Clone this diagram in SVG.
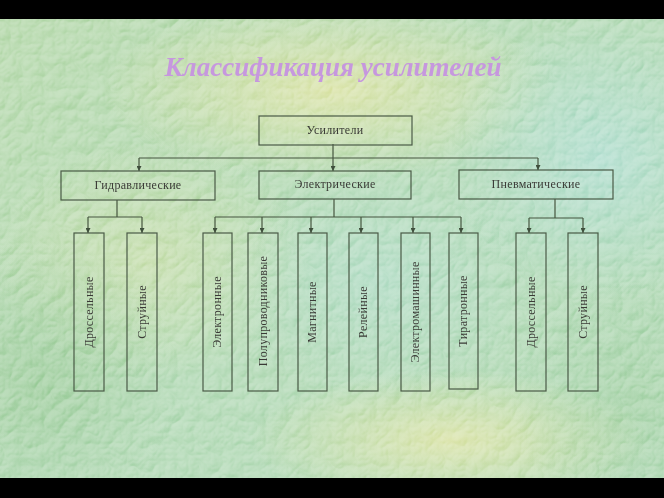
<svg xmlns="http://www.w3.org/2000/svg" width="664" height="498" viewBox="0 0 664 498">
  <defs>
    <linearGradient id="bgBase" x1="0" y1="0" x2="1" y2="1">
      <stop offset="0" stop-color="#b6d9ab"/>
      <stop offset="0.5" stop-color="#b3dab6"/>
      <stop offset="1" stop-color="#b0d9b5"/>
    </linearGradient>
    <radialGradient id="glowY1" cx="0.5" cy="0.5" r="0.5">
      <stop offset="0" stop-color="#e2e6a8" stop-opacity="0.85"/>
      <stop offset="1" stop-color="#e2e6a8" stop-opacity="0"/>
    </radialGradient>
    <radialGradient id="glowB" cx="0.5" cy="0.5" r="0.5">
      <stop offset="0" stop-color="#b2e0d6" stop-opacity="0.8"/>
      <stop offset="1" stop-color="#b2e0d6" stop-opacity="0"/>
    </radialGradient>
    <radialGradient id="glowG" cx="0.5" cy="0.5" r="0.5">
      <stop offset="0" stop-color="#9acb98" stop-opacity="0.7"/>
      <stop offset="1" stop-color="#9acb98" stop-opacity="0"/>
    </radialGradient>
    <filter id="tex" x="0" y="0" width="100%" height="100%" color-interpolation-filters="sRGB">
      <feTurbulence type="turbulence" baseFrequency="0.045" numOctaves="3" seed="7" result="n"/>
      <feDiffuseLighting in="n" surfaceScale="3" lighting-color="#ffffff" result="l">
        <feDistantLight azimuth="235" elevation="50"/>
      </feDiffuseLighting>
    </filter>
    <marker id="arr" viewBox="0 0 6 6" refX="6" refY="3" markerWidth="5" markerHeight="5" orient="auto" markerUnits="userSpaceOnUse">
      <path d="M0,0 L6,3 L0,6 Z" fill="#3f4f3c"/>
    </marker>
    <style>
      .box { fill: none; stroke: #4a5a46; stroke-width: 1.2; }
      .lbl { font-family: "Liberation Serif", "Times New Roman", serif; font-size: 12px; fill: #3a3a36; text-anchor: middle; letter-spacing: 0.3px; }
      .conn { fill: none; stroke: #45553f; stroke-width: 1.2; }
      .title { font-family: "Liberation Serif", "Times New Roman", serif; font-size: 27px; font-weight: bold; font-style: italic; fill: #c697de; text-anchor: middle; }
      .texture { mix-blend-mode: overlay; }
    </style>
  </defs>

  <!-- background -->
  <rect x="0" y="0" width="664" height="498" fill="url(#bgBase)"/>
  <ellipse cx="330" cy="90" rx="230" ry="90" fill="url(#glowY1)"/>
  <ellipse cx="450" cy="440" rx="200" ry="70" fill="url(#glowY1)"/>
  <ellipse cx="150" cy="260" rx="160" ry="120" fill="url(#glowY1)" opacity="0.5"/>
  <ellipse cx="600" cy="160" rx="160" ry="140" fill="url(#glowB)"/>
  <ellipse cx="380" cy="280" rx="160" ry="120" fill="url(#glowB)" opacity="0.6"/>
  <ellipse cx="40" cy="380" rx="140" ry="140" fill="url(#glowG)"/>
  <ellipse cx="630" cy="400" rx="120" ry="120" fill="url(#glowG)" opacity="0.6"/>
  <rect class="texture" x="0" y="19" width="664" height="459" filter="url(#tex)" opacity="0.25"/>

  <!-- black bars -->
  <rect x="0" y="0" width="664" height="19" fill="#000"/>
  <rect x="0" y="478" width="664" height="20" fill="#000"/>

  <text class="title" x="333" y="76">Классификация усилителей</text>

  <g id="connectors">
    <path class="conn" d="M333,144 V158"/>
    <path class="conn" d="M139,158 H538"/>
    <path class="conn" d="M139,158 V171" marker-end="url(#arr)"/>
    <path class="conn" d="M333,158 V171" marker-end="url(#arr)"/>
    <path class="conn" d="M538,158 V170" marker-end="url(#arr)"/>

    <path class="conn" d="M117,200 V217"/>
    <path class="conn" d="M88,217 H142"/>
    <path class="conn" d="M88,217 V233" marker-end="url(#arr)"/>
    <path class="conn" d="M142,217 V233" marker-end="url(#arr)"/>

    <path class="conn" d="M334,199 V217"/>
    <path class="conn" d="M215,217 H461"/>
    <path class="conn" d="M215,217 V233" marker-end="url(#arr)"/>
    <path class="conn" d="M262,217 V233" marker-end="url(#arr)"/>
    <path class="conn" d="M311,217 V233" marker-end="url(#arr)"/>
    <path class="conn" d="M361,217 V233" marker-end="url(#arr)"/>
    <path class="conn" d="M413,217 V233" marker-end="url(#arr)"/>
    <path class="conn" d="M461,217 V233" marker-end="url(#arr)"/>

    <path class="conn" d="M555,199 V218"/>
    <path class="conn" d="M529,218 H583"/>
    <path class="conn" d="M529,218 V233" marker-end="url(#arr)"/>
    <path class="conn" d="M583,218 V233" marker-end="url(#arr)"/>
  </g>

  <g id="n-usiliteli">
    <rect class="box" x="259" y="116" width="153" height="29"/>
    <text class="lbl" x="335" y="134">Усилители</text>
  </g>
  <g id="n-gidr">
    <rect class="box" x="61" y="171" width="154" height="29"/>
    <text class="lbl" x="138" y="189">Гидравлические</text>
  </g>
  <g id="n-elektr">
    <rect class="box" x="259" y="171" width="152" height="28"/>
    <text class="lbl" x="335" y="188">Электрические</text>
  </g>
  <g id="n-pnevm">
    <rect class="box" x="459" y="170" width="154" height="29"/>
    <text class="lbl" x="536" y="188">Пневматические</text>
  </g>

  <g id="n-gidr-dross">
    <rect class="box" x="74" y="233" width="30" height="158"/>
    <text class="lbl" transform="translate(93,312) rotate(-90)">Дроссельные</text>
  </g>
  <g id="n-gidr-struy">
    <rect class="box" x="127" y="233" width="30" height="158"/>
    <text class="lbl" transform="translate(146,312) rotate(-90)">Струйные</text>
  </g>
  <g id="n-elektronnye">
    <rect class="box" x="203" y="233" width="29" height="158"/>
    <text class="lbl" transform="translate(221,312) rotate(-90)">Электронные</text>
  </g>
  <g id="n-polupr">
    <rect class="box" x="248" y="233" width="30" height="158"/>
    <text class="lbl" transform="translate(267,311) rotate(-90)">Полупроводниковые</text>
  </g>
  <g id="n-magn">
    <rect class="box" x="298" y="233" width="29" height="158"/>
    <text class="lbl" transform="translate(316,312) rotate(-90)">Магнитные</text>
  </g>
  <g id="n-rele">
    <rect class="box" x="349" y="233" width="29" height="158"/>
    <text class="lbl" transform="translate(367,312) rotate(-90)">Релейные</text>
  </g>
  <g id="n-elmash">
    <rect class="box" x="401" y="233" width="29" height="158"/>
    <text class="lbl" transform="translate(419,312) rotate(-90)">Электромашинные</text>
  </g>
  <g id="n-tiratr">
    <rect class="box" x="449" y="233" width="29" height="156"/>
    <text class="lbl" transform="translate(467,311) rotate(-90)">Тиратронные</text>
  </g>
  <g id="n-pnevm-dross">
    <rect class="box" x="516" y="233" width="30" height="158"/>
    <text class="lbl" transform="translate(535,312) rotate(-90)">Дроссельные</text>
  </g>
  <g id="n-pnevm-struy">
    <rect class="box" x="568" y="233" width="30" height="158"/>
    <text class="lbl" transform="translate(587,312) rotate(-90)">Струйные</text>
  </g>
</svg>
